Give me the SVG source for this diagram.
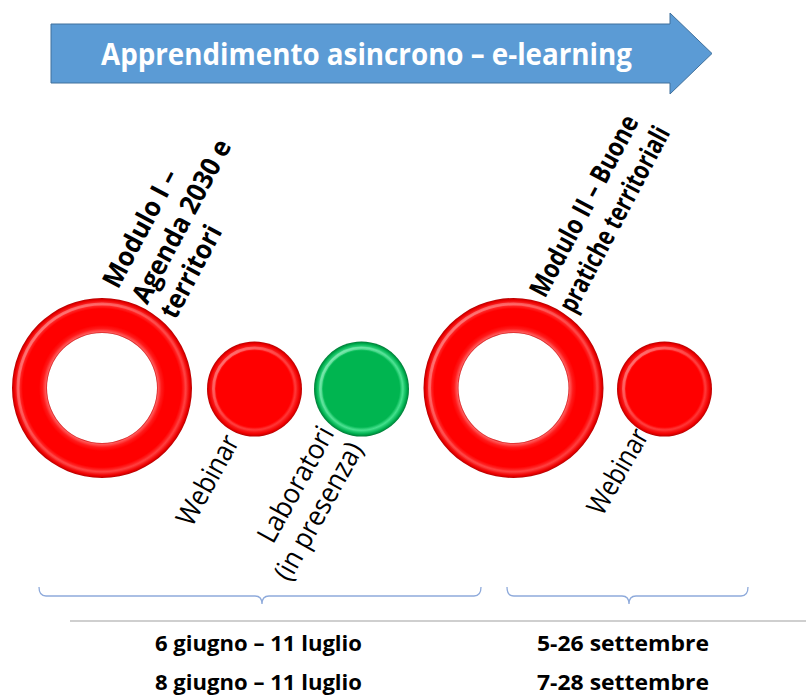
<svg xmlns="http://www.w3.org/2000/svg" width="806" height="696" viewBox="0 0 806 696">
<defs>
<style>
.t{font-family:"Open Sans","Liberation Sans",sans-serif;fill:#000}
.b{font-weight:bold}
.brace{fill:none;stroke:#8eaadb;stroke-width:1.3}
</style>
<radialGradient id="gRing" cx="0" cy="0" r="90" gradientUnits="userSpaceOnUse">
<stop offset="0.605" stop-color="#c00000"/>
<stop offset="0.625" stop-color="#ff5a5a"/>
<stop offset="0.66" stop-color="#ff1a1a"/>
<stop offset="0.70" stop-color="#ff0000"/>
<stop offset="0.88" stop-color="#ff0000"/>
<stop offset="0.93" stop-color="#ff3a3a"/>
<stop offset="0.975" stop-color="#ee0000"/>
<stop offset="1" stop-color="#b40000"/>
</radialGradient>
<radialGradient id="gRed" cx="0.5" cy="0.5" r="0.5">
<stop offset="0" stop-color="#ff0000"/>
<stop offset="0.8" stop-color="#ff0000"/>
<stop offset="0.86" stop-color="#ff3030"/>
<stop offset="0.95" stop-color="#f20000"/>
<stop offset="1" stop-color="#b80000"/>
</radialGradient>
<radialGradient id="gGreen" cx="0.5" cy="0.5" r="0.5">
<stop offset="0" stop-color="#00b550"/>
<stop offset="0.8" stop-color="#00b550"/>
<stop offset="0.87" stop-color="#3fe08a"/>
<stop offset="0.95" stop-color="#00b050"/>
<stop offset="1" stop-color="#007a36"/>
</radialGradient>
<linearGradient id="gHi" x1="0" y1="0" x2="1" y2="1">
<stop offset="0" stop-color="#ffffff" stop-opacity="0.4"/>
<stop offset="0.5" stop-color="#ffffff" stop-opacity="0.08"/>
<stop offset="1" stop-color="#ffffff" stop-opacity="0"/>
</linearGradient>
</defs>
<rect width="806" height="696" fill="#ffffff"/>

<g id="arrow">
<path d="M51,24 H670 V13 L712,53.5 L670,94 V83 H51 Z" fill="#5b9bd5" stroke="#41719c" stroke-width="1"/>
<text class="t b" x="366.5" y="65" font-size="31" style="fill:#ffffff" text-anchor="middle" textLength="531" lengthAdjust="spacingAndGlyphs">Apprendimento asincrono – e-learning</text>
</g>

<g id="modulo1">
<path transform="translate(102,388)" d="M-90,0 A90,90 0 1,0 90,0 A90,90 0 1,0 -90,0 Z M-55,0 A55,55 0 1,1 55,0 A55,55 0 1,1 -55,0 Z" fill="url(#gRing)" fill-rule="evenodd"/>
<circle cx="102" cy="388" r="84" fill="none" stroke="url(#gHi)" stroke-width="3"/>
<g transform="translate(118,290) rotate(-62)">
<text class="t b" font-size="27"><tspan x="0" y="0" textLength="130" lengthAdjust="spacingAndGlyphs">Modulo I –</tspan><tspan x="0" y="33" textLength="181" lengthAdjust="spacingAndGlyphs">Agenda 2030 e</tspan><tspan x="0" y="65" textLength="101" lengthAdjust="spacingAndGlyphs">territori</tspan></text>
</g>
</g>

<g id="webinar1">
<circle cx="254.5" cy="389" r="47.5" fill="url(#gRed)"/>
<circle cx="254.5" cy="389" r="41" fill="none" stroke="url(#gHi)" stroke-width="3"/>
<g transform="translate(192,528) rotate(-61)">
<text class="t" font-size="28" textLength="99" lengthAdjust="spacingAndGlyphs">Webinar</text>
</g>
</g>

<g id="laboratori">
<circle cx="361.5" cy="389" r="47.5" fill="url(#gGreen)"/>
<circle cx="361.5" cy="389" r="41" fill="none" stroke="url(#gHi)" stroke-width="3"/>
<g transform="translate(335,433) rotate(-61)">
<text class="t" font-size="28" text-anchor="end"><tspan x="0" y="0" textLength="128" lengthAdjust="spacingAndGlyphs">Laboratori</tspan><tspan x="0" y="33" textLength="153" lengthAdjust="spacingAndGlyphs">(in presenza)</tspan></text>
</g>
</g>

<g id="modulo2">
<path transform="translate(513.5,388)" d="M-90,0 A90,90 0 1,0 90,0 A90,90 0 1,0 -90,0 Z M-55,0 A55,55 0 1,1 55,0 A55,55 0 1,1 -55,0 Z" fill="url(#gRing)" fill-rule="evenodd"/>
<circle cx="513.5" cy="388" r="84" fill="none" stroke="url(#gHi)" stroke-width="3"/>
<g transform="translate(545,299) rotate(-62)">
<text class="t b" font-size="27"><tspan x="0" y="0" textLength="201" lengthAdjust="spacingAndGlyphs">Modulo II – Buone</tspan><tspan x="0" y="33" textLength="206" lengthAdjust="spacingAndGlyphs">pratiche territoriali</tspan></text>
</g>
</g>

<g id="webinar2">
<circle cx="664.5" cy="389" r="47.5" fill="url(#gRed)"/>
<circle cx="664.5" cy="389" r="41" fill="none" stroke="url(#gHi)" stroke-width="3"/>
<g transform="translate(602.5,517) rotate(-60)">
<text class="t" font-size="28" textLength="94" lengthAdjust="spacingAndGlyphs">Webinar</text>
</g>
</g>

<g id="connectors">
<path class="brace" d="M39,587 Q39,596 46,596 L255,596 Q262,596 262,604 Q262,596 269,596 L474,596 Q481,596 481,587"/>
<path class="brace" d="M507,587 Q507,596 514,596 L622,596 Q629,596 629,604 Q629,596 636,596 L741,596 Q748,596 748,587"/>
</g>

<g id="dates">
<line x1="70" y1="621" x2="806" y2="621" stroke="#bfbfbf" stroke-width="1.5"/>
<text class="t b" x="155" y="651" font-size="21" textLength="207" lengthAdjust="spacingAndGlyphs">6 giugno – 11 luglio</text>
<text class="t b" x="155" y="690" font-size="21" textLength="207" lengthAdjust="spacingAndGlyphs">8 giugno – 11 luglio</text>
<text class="t b" x="537" y="651" font-size="21" textLength="172" lengthAdjust="spacingAndGlyphs">5-26 settembre</text>
<text class="t b" x="537" y="690" font-size="21" textLength="172" lengthAdjust="spacingAndGlyphs">7-28 settembre</text>
</g>
</svg>
